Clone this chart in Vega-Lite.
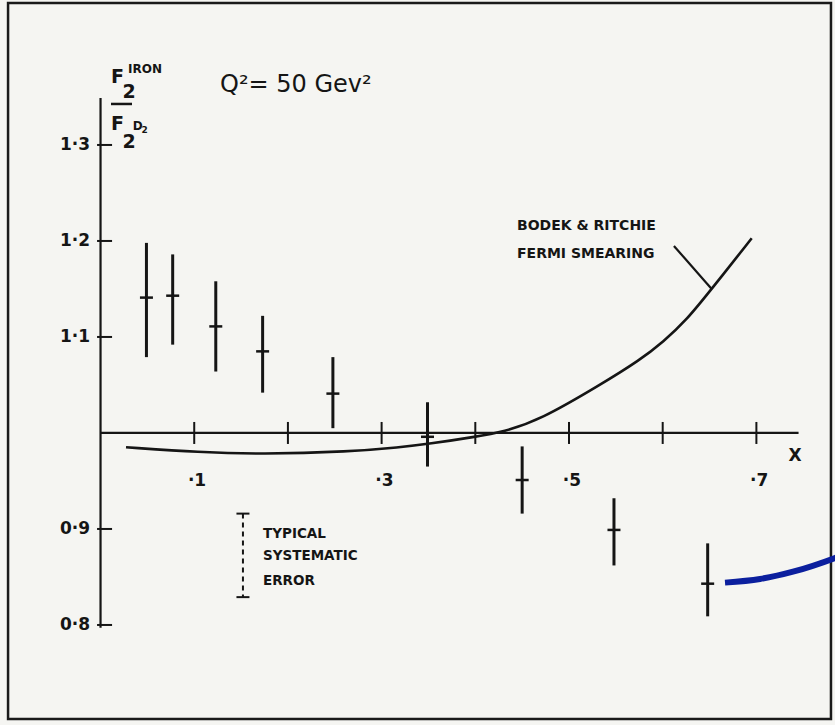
{
  "$schema": "https://vega.github.io/schema/vega-lite/v6.json",
  "width": 835,
  "height": 725,
  "autosize": {"type": "fit", "contains": "padding"},
  "padding": 0,
  "background": "#f5f5f2",
  "config": {"view": {"stroke": null}},
  "datasets": {
    "frame": [{"x": -0.0987, "y": 1.4479, "x2": 0.7796, "y2": 0.7021}],
    "axes": [
      {"x": 0, "y": 1.349, "x2": 0, "y2": 0.797},
      {"x": 0, "y": 1.0, "x2": 0.745, "y2": 1.0}
    ],
    "yticks": [
      {"x": 0.0043, "y": 1.3},
      {"x": 0.0043, "y": 1.2},
      {"x": 0.0043, "y": 1.1},
      {"x": 0.0043, "y": 0.9},
      {"x": 0.0043, "y": 0.8}
    ],
    "ylabels": [
      {"x": -0.0112, "y": 1.3, "label": "1·3"},
      {"x": -0.0112, "y": 1.2, "label": "1·2"},
      {"x": -0.0112, "y": 1.1, "label": "1·1"},
      {"x": -0.0112, "y": 0.9, "label": "0·9"},
      {"x": -0.0112, "y": 0.8, "label": "0·8"}
    ],
    "xticks": [
      {"x": 0.1, "y": 1.0},
      {"x": 0.2, "y": 1.0},
      {"x": 0.3, "y": 1.0},
      {"x": 0.4, "y": 1.0},
      {"x": 0.5, "y": 1.0},
      {"x": 0.6, "y": 1.0},
      {"x": 0.7, "y": 1.0}
    ],
    "xlabels": [
      {"x": 0.103, "y": 0.95, "label": "·1"},
      {"x": 0.303, "y": 0.95, "label": "·3"},
      {"x": 0.503, "y": 0.95, "label": "·5"},
      {"x": 0.703, "y": 0.95, "label": "·7"},
      {"x": 0.7412, "y": 0.976, "label": "X"}
    ],
    "fermi_smearing": [
      {"x": 0.0272, "y": 0.9851},
      {"x": 0.1062, "y": 0.9799},
      {"x": 0.1702, "y": 0.9778},
      {"x": 0.2663, "y": 0.9805},
      {"x": 0.3196, "y": 0.9851},
      {"x": 0.3498, "y": 0.9885},
      {"x": 0.4007, "y": 0.9961},
      {"x": 0.4299, "y": 1.0012},
      {"x": 0.469, "y": 1.0135},
      {"x": 0.5331, "y": 1.05},
      {"x": 0.5758, "y": 1.076},
      {"x": 0.6006, "y": 1.095},
      {"x": 0.6256, "y": 1.1177},
      {"x": 0.6523, "y": 1.15},
      {"x": 0.695, "y": 1.2028}
    ],
    "ratio": [
      {"x": 0.049, "y": 1.141, "hi": 1.198, "lo": 1.079},
      {"x": 0.077, "y": 1.143, "hi": 1.186, "lo": 1.092},
      {"x": 0.123, "y": 1.111, "hi": 1.158, "lo": 1.064},
      {"x": 0.173, "y": 1.085, "hi": 1.122, "lo": 1.042},
      {"x": 0.248, "y": 1.041, "hi": 1.079, "lo": 1.005},
      {"x": 0.349, "y": 0.996, "hi": 1.032, "lo": 0.965},
      {"x": 0.45, "y": 0.951, "hi": 0.986, "lo": 0.916},
      {"x": 0.548, "y": 0.899, "hi": 0.932, "lo": 0.862},
      {"x": 0.648, "y": 0.843, "hi": 0.885, "lo": 0.809}
    ],
    "systematic": [{"x": 0.152, "y": 0.916, "y2": 0.829}],
    "systematic_caps": [{"x": 0.152, "y": 0.916}, {"x": 0.152, "y": 0.829}],
    "systematic_text": [
      {"x": 0.1734, "y": 0.8906, "label": "TYPICAL"},
      {"x": 0.1734, "y": 0.8677, "label": "SYSTEMATIC"},
      {"x": 0.1734, "y": 0.8417, "label": "ERROR"}
    ],
    "model_text": [
      {"x": 0.4445, "y": 1.2115, "label": "BODEK & RITCHIE"},
      {"x": 0.4445, "y": 1.1823, "label": "FERMI SMEARING"}
    ],
    "pointer": [{"x": 0.612, "y": 1.1948, "x2": 0.6523, "y2": 1.15}],
    "title": [{"x": 0.1275, "y": 1.3552, "label": "Q²= 50 Gev²"}],
    "ylabel_big": [
      {"x": 0.0112, "y": 1.3643, "label": "F"},
      {"x": 0.0235, "y": 1.349, "label": "2"},
      {"x": 0.0112, "y": 1.3156, "label": "F"},
      {"x": 0.0235, "y": 1.2969, "label": "2"}
    ],
    "ylabel_small": [
      {"x": 0.0293, "y": 1.375, "label": "IRON"},
      {"x": 0.0345, "y": 1.3156, "label": "D"}
    ],
    "ylabel_tiny": [{"x": 0.0437, "y": 1.3125, "label": "2"}],
    "fraction_bar": [{"x": 0.0112, "y": 1.3427, "x2": 0.0336, "y2": 1.3427}],
    "blue_stroke": [
      {"x": 0.6665, "y": 0.8441},
      {"x": 0.7039, "y": 0.8479},
      {"x": 0.7391, "y": 0.8555},
      {"x": 0.7839, "y": 0.8698},
      {"x": 0.795, "y": 0.874}
    ]
  },
  "encoding": {
    "x": {"field": "x", "type": "quantitative", "scale": {"domain": [-0.1073, 0.7839], "nice": false, "zero": false}, "axis": null},
    "y": {"field": "y", "type": "quantitative", "scale": {"domain": [0.6958, 1.451], "nice": false, "zero": false}, "axis": null}
  },
  "layer": [
    {
      "data": {"name": "frame"},
      "mark": {"type": "rect", "filled": false, "stroke": "#1a1a1a", "strokeWidth": 2.5},
      "encoding": {"x2": {"field": "x2"}, "y2": {"field": "y2"}}
    },
    {
      "data": {"name": "axes"},
      "mark": {"type": "rule", "color": "#151515", "strokeWidth": 2.2},
      "encoding": {"x2": {"field": "x2"}, "y2": {"field": "y2"}}
    },
    {
      "data": {"name": "yticks"},
      "mark": {"type": "tick", "orient": "horizontal", "size": 15, "thickness": 2, "color": "#151515", "opacity": 1}
    },
    {
      "data": {"name": "ylabels"},
      "mark": {"type": "text", "align": "right", "baseline": "middle", "font": "DejaVu Sans", "fontWeight": "bold", "fontSize": 17, "color": "#151515"},
      "encoding": {"text": {"field": "label", "type": "nominal"}}
    },
    {
      "data": {"name": "xticks"},
      "mark": {"type": "tick", "orient": "vertical", "size": 22, "thickness": 2, "color": "#151515", "opacity": 1}
    },
    {
      "data": {"name": "xlabels"},
      "mark": {"type": "text", "align": "center", "baseline": "middle", "font": "DejaVu Sans", "fontWeight": "bold", "fontSize": 17, "color": "#151515"},
      "encoding": {"text": {"field": "label", "type": "nominal"}}
    },
    {
      "data": {"name": "fermi_smearing"},
      "mark": {"type": "line", "interpolate": "basis", "color": "#151515", "strokeWidth": 2.6},
      "encoding": {}
    },
    {
      "data": {"name": "ratio"},
      "mark": {"type": "rule", "color": "#151515", "strokeWidth": 3},
      "encoding": {
        "y": {"field": "hi", "type": "quantitative", "scale": {"domain": [0.6958, 1.451], "nice": false, "zero": false}, "axis": null},
        "y2": {"field": "lo"}
      }
    },
    {
      "data": {"name": "ratio"},
      "mark": {"type": "tick", "orient": "horizontal", "size": 13, "thickness": 2.5, "color": "#151515", "opacity": 1}
    },
    {
      "data": {"name": "systematic"},
      "mark": {"type": "rule", "color": "#151515", "strokeWidth": 2, "strokeDash": [5, 4]},
      "encoding": {"y2": {"field": "y2"}}
    },
    {
      "data": {"name": "systematic_caps"},
      "mark": {"type": "tick", "orient": "horizontal", "size": 13, "thickness": 2, "color": "#151515", "opacity": 1}
    },
    {
      "data": {"name": "systematic_text"},
      "mark": {"type": "text", "align": "left", "baseline": "alphabetic", "font": "DejaVu Sans", "fontWeight": "bold", "fontSize": 13.5, "color": "#151515"},
      "encoding": {"text": {"field": "label", "type": "nominal"}}
    },
    {
      "data": {"name": "model_text"},
      "mark": {"type": "text", "align": "left", "baseline": "alphabetic", "font": "DejaVu Sans", "fontWeight": "bold", "fontSize": 14, "color": "#151515"},
      "encoding": {"text": {"field": "label", "type": "nominal"}}
    },
    {
      "data": {"name": "pointer"},
      "mark": {"type": "rule", "color": "#151515", "strokeWidth": 2.2},
      "encoding": {"x2": {"field": "x2"}, "y2": {"field": "y2"}}
    },
    {
      "data": {"name": "title"},
      "mark": {"type": "text", "align": "left", "baseline": "alphabetic", "font": "DejaVu Sans", "fontSize": 24, "color": "#151515"},
      "encoding": {"text": {"field": "label", "type": "nominal"}}
    },
    {
      "data": {"name": "ylabel_big"},
      "mark": {"type": "text", "align": "left", "baseline": "alphabetic", "font": "DejaVu Sans", "fontWeight": "bold", "fontSize": 19, "color": "#151515"},
      "encoding": {"text": {"field": "label", "type": "nominal"}}
    },
    {
      "data": {"name": "ylabel_small"},
      "mark": {"type": "text", "align": "left", "baseline": "alphabetic", "font": "DejaVu Sans", "fontWeight": "bold", "fontSize": 12, "color": "#151515"},
      "encoding": {"text": {"field": "label", "type": "nominal"}}
    },
    {
      "data": {"name": "ylabel_tiny"},
      "mark": {"type": "text", "align": "left", "baseline": "alphabetic", "font": "DejaVu Sans", "fontWeight": "bold", "fontSize": 9, "color": "#151515"},
      "encoding": {"text": {"field": "label", "type": "nominal"}}
    },
    {
      "data": {"name": "fraction_bar"},
      "mark": {"type": "rule", "color": "#151515", "strokeWidth": 2.5},
      "encoding": {"x2": {"field": "x2"}, "y2": {"field": "y2"}}
    },
    {
      "data": {"name": "blue_stroke"},
      "mark": {"type": "line", "interpolate": "monotone", "color": "#0b1f9e", "strokeWidth": 6, "clip": true},
      "encoding": {}
    }
  ]
}
